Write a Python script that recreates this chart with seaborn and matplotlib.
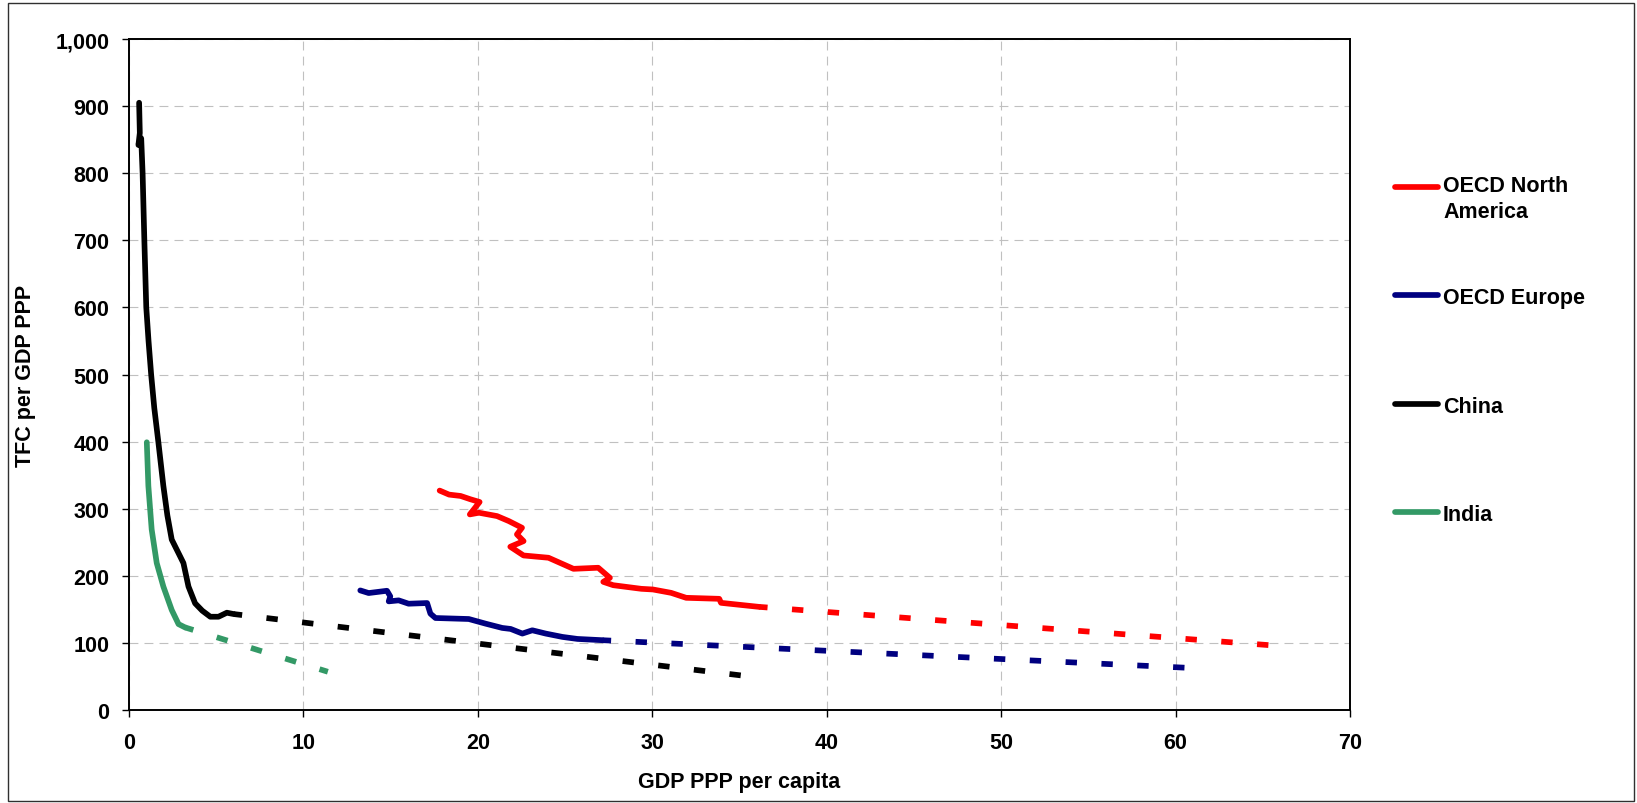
import matplotlib
matplotlib.use("Agg")
import matplotlib.pyplot as plt
import seaborn as sns
import pandas as pd
from matplotlib.lines import Line2D
from matplotlib.patches import Rectangle
from matplotlib.ticker import FuncFormatter

# ---------------- data ----------------
series_names = ["OECD North America", "OECD Europe", "China", "India"]
series_labels = ["OECD North\nAmerica", "OECD Europe", "China", "India"]
series_colors = ["#FF0000", "#000080", "#000000", "#339966"]

# historical (solid)
na_x = [17.81, 18.35, 19.01, 19.58, 20.10, 19.54, 20.06, 21.10, 21.77, 22.53, 22.24, 22.62,
        21.86, 22.62, 24.05, 25.48, 26.90, 27.57, 27.19, 27.76, 29.37, 30.04, 31.08, 31.94,
        33.84, 33.94, 36.12]
na_y = [327, 321, 319, 314, 310, 291.5, 294, 289, 281.6, 271.6, 261.7, 251.7,
        243.3, 230.3, 226.9, 210.4, 212, 197, 191, 186, 180.6, 179.6, 174.6, 167.2,
        165.7, 159.7, 153.7]

eu_x = [13.26, 13.74, 14.79, 14.98, 14.89, 15.46, 16.03, 17.09, 17.28, 17.57, 19.48, 20.44,
        21.40, 21.88, 22.55, 23.12, 23.89, 24.85, 25.71, 27.15]
eu_y = [178.2, 174.3, 177.7, 169.3, 161.9, 163.4, 158.4, 159.4, 143.6, 137.1, 135.6, 128.7,
        122.3, 120.8, 113.9, 118.8, 113.9, 108.9, 105.9, 104.0]

cn_x = [0.58, 0.62, 0.54, 0.70, 0.78, 0.88, 0.99, 1.12, 1.27, 1.45, 1.68, 1.97, 2.20, 2.45,
        2.93, 3.12, 3.41, 3.79, 4.20, 4.66, 5.13, 5.61, 6.00]
cn_y = [905, 860, 842, 852, 800, 700, 600, 550, 500, 450, 400, 334, 290, 254,
        229, 219, 184, 159, 148, 139, 139, 145, 143]

in_x = [1.02, 1.11, 1.30, 1.59, 1.97, 2.45, 2.84, 3.22]
in_y = [399, 334, 269, 219, 184, 149, 128, 123]

# projections (dashed)
na_proj_x = [36.12, 65.7]
na_proj_y = [153.7, 96]
eu_proj_x = [27.15, 61.0]
eu_proj_y = [104.0, 62.5]
cn_proj_x = [6.00, 35.1]
cn_proj_y = [143, 51.5]
in_proj_x = [3.22, 11.4]
in_proj_y = [123, 57]

x_ticks = [0, 10, 20, 30, 40, 50, 60, 70]
y_ticks = [0, 100, 200, 300, 400, 500, 600, 700, 800, 900, 1000]
x_label = "GDP PPP per capita"
y_label = "TFC per GDP PPP"

# ---------------- style ----------------
sns.set_theme(style="white")
plt.rcParams['font.family'] = ['Liberation Sans', 'DejaVu Sans']
plt.rcParams['font.weight'] = 'bold'

W, H = 1637, 804
fig = plt.figure(figsize=(W / 100, H / 100), dpi=100)
fig.patch.set_facecolor("white")

ax_l, ax_r, ax_t, ax_b = 129, 1350, 40, 711
ax = fig.add_axes([ax_l / W, 1 - ax_b / H, (ax_r - ax_l) / W, (ax_b - ax_t) / H])

hist = [(na_x, na_y), (eu_x, eu_y), (cn_x, cn_y), (in_x, in_y)]
proj = [(na_proj_x, na_proj_y), (eu_proj_x, eu_proj_y), (cn_proj_x, cn_proj_y), (in_proj_x, in_proj_y)]

LW = 4.1
for (hx, hy), (px, py), c, n in zip(hist, proj, series_colors, series_names):
    dfh = pd.DataFrame({"gdp": hx, "tfc": hy})
    sns.lineplot(data=dfh, x="gdp", y="tfc", sort=False, estimator=None, color=c,
                 lw=LW, ax=ax, legend=False, solid_capstyle="round",
                 solid_joinstyle="round", zorder=3)
    dfp = pd.DataFrame({"gdp": px, "tfc": py})
    sns.lineplot(data=dfp, x="gdp", y="tfc", sort=False, estimator=None, color=c,
                 lw=LW, ax=ax, legend=False, linestyle=(0.5, (2.0, 4.3)),
                 dash_capstyle="butt", zorder=3)

ax.set_xlim(0, 70)
ax.set_ylim(0, 1000)
ax.set_xticks(x_ticks)
ax.set_yticks(y_ticks)
ax.yaxis.set_major_formatter(FuncFormatter(lambda v, p: f"{int(v):,}"))

ax.set_axisbelow(True)
ax.grid(True, color="#C0C0C0", linestyle=(0, (8, 5.5)), lw=0.8)

for s in ax.spines.values():
    s.set_visible(True)
    s.set_color("black")
    s.set_linewidth(1.4)

ax.tick_params(axis="both", which="major", bottom=True, left=True, direction="out",
               length=5, width=1.0, color="black", labelsize=15.5, labelcolor="black")
ax.tick_params(axis="x", pad=11)
ax.tick_params(axis="y", pad=9)
for lab in ax.get_xticklabels() + ax.get_yticklabels():
    lab.set_fontweight("bold")

ax.set_xlabel(x_label, fontsize=15.5, fontweight="bold", color="black", va="center")
ax.set_ylabel(y_label, fontsize=15.5, fontweight="bold", color="black", va="center")
ax.xaxis.set_label_coords(0.5, (ax_b - 783) / (ax_b - ax_t))
ax.yaxis.set_label_coords((26 - ax_l) / (ax_r - ax_l), 0.5)

# ---------------- legend (manual, right side) ----------------
leg_y = [188, 296, 405, 513]
hx0, hx1, tx = 1395, 1438, 1443
for yy, c, lab in zip(leg_y, series_colors, series_labels):
    fig.add_artist(Line2D([hx0 / W, hx1 / W], [1 - yy / H, 1 - yy / H],
                          transform=fig.transFigure, color=c, lw=LW,
                          solid_capstyle="round"))
    if "\n" in lab:
        fig.text(tx / W, 1 - (yy - 12) / H, lab, ha="left", va="top", fontsize=15.5,
                 fontweight="bold", color="black", linespacing=1.3)
    else:
        fig.text(tx / W, 1 - yy / H, lab, ha="left", va="center_baseline", fontsize=15.5,
                 fontweight="bold", color="black")

# outer chart-area border
fig.add_artist(Rectangle((8 / W, 1 - 802 / H), (1634 - 8) / W, (802 - 4) / H,
                         transform=fig.transFigure, fill=False, ec="#303030", lw=1.0))

fig.savefig("out.png", dpi=100, facecolor="white")
